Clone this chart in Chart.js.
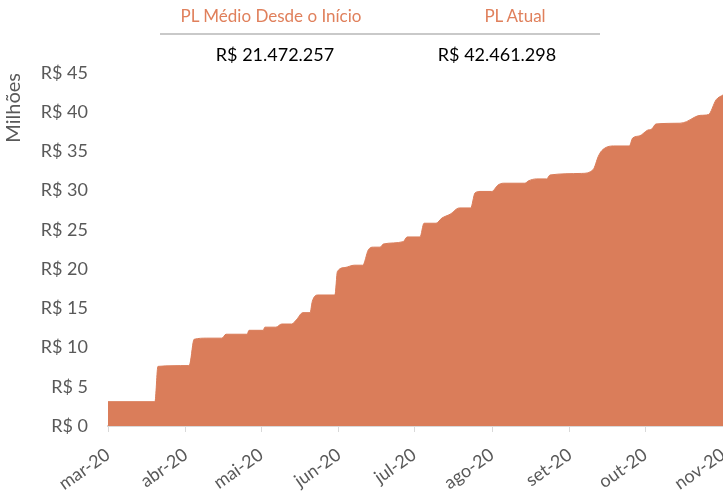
<!DOCTYPE html>
<html>
<head>
<meta charset="utf-8">
<script src="https://cdn.jsdelivr.net/npm/chart.js@4"></script>
<style>
  body { margin: 0; background: #fff; }
  #wrap { position: relative; width: 723px; height: 491px; overflow: hidden; font-family: Lato, sans-serif; }
  #plChart { position: absolute; left: 0; top: 0; }
  .head { position: absolute; top: 5px; color: #E0805C; font-size: 17px; transform: translateX(-50%); white-space: nowrap; }
  .val { position: absolute; top: 43px; color: #000; font-size: 18px; transform: translateX(-50%); white-space: nowrap; }
  #rule { position: absolute; left: 160px; top: 33px; width: 440px; height: 0; border-top: 2px solid #C9C9C9; }
</style>
</head>
<body>
<div id="wrap">
  <canvas id="plChart" width="723" height="491"></canvas>
  <div class="head" style="left:271px">PL Médio Desde o Início</div>
  <div class="head" style="left:515px">PL Atual</div>
  <div id="rule"></div>
  <div class="val" style="left:275px">R$ 21.472.257</div>
  <div class="val" style="left:497px">R$ 42.461.298</div>
</div>
<script>
// days counted from 1 mar 2020
const dayOffsets = [0, 18.7, 19.9, 31.9, 32.7, 34.3, 39.4, 45.4, 47.0, 55.4, 56.2, 61.8, 62.5, 66.9, 69.2, 73.2,
  75.2, 77.6, 80.5, 81.4, 83.5, 90.4, 91.4, 94.4, 98.1, 101.5, 103.7, 105.7, 108.4, 109.7, 117.6, 119.2,
  124.3, 125.9, 130.7, 133.0, 136.3, 140.0, 144.5, 146.2, 148.2, 152.9, 155.3, 157.5, 166.1, 167.5,
  170.8, 174.8, 176.1, 188.7, 193.3, 195.3, 196.7, 201.3, 207.7, 209.0, 211.9, 214.9, 216.6, 218.3,
  227.9, 230.5, 233.9, 235.9, 239.2, 242.3, 245];
const plMilhoes = [3.1, 3.1, 7.6, 7.7, 8.0, 11.05, 11.2, 11.2, 11.7, 11.7, 12.2, 12.2, 12.6, 12.6, 13.0, 13.0,
  13.6, 14.45, 14.45, 15.9, 16.7, 16.7, 19.7, 20.2, 20.5, 20.5, 22.45, 22.8, 22.8, 23.2, 23.5, 24.1,
  24.1, 25.85, 25.85, 26.5, 27.0, 27.8, 27.8, 29.7, 29.9, 29.9, 30.7, 30.95, 30.95, 31.25,
  31.5, 31.5, 32.0, 32.2, 32.7, 34.35, 35.1, 35.7, 35.7, 36.7, 37.0, 37.7, 37.85, 38.5,
  38.6, 38.8, 39.4, 39.6, 39.7, 41.6, 42.2];
const monthTickDays = [0, 31, 61, 92, 122, 153, 184, 214, 245];
const monthLabels = ['mar-20', 'abr-20', 'mai-20', 'jun-20', 'jul-20', 'ago-20', 'set-20', 'out-20', 'nov-20'];
const yTicks = [0, 5, 10, 15, 20, 25, 30, 35, 40, 45];

const points = dayOffsets.map((d, i) => ({ x: d, y: plMilhoes[i] }));

const ctx = document.getElementById('plChart').getContext('2d');
new Chart(ctx, {
  type: 'line',
  data: {
    datasets: [{
      label: 'PL',
      data: points,
      fill: 'origin',
      backgroundColor: '#DA7D5A',
      borderColor: '#DA7D5A',
      borderWidth: 1,
      pointRadius: 0,
      cubicInterpolationMode: 'monotone'
    }]
  },
  options: {
    responsive: false,
    animation: false,
    layout: { padding: { top: 73, right: 0, left: 0, bottom: 0 } },
    plugins: { legend: { display: false }, tooltip: { enabled: false } },
    scales: {
      x: {
        type: 'linear',
        min: 0,
        max: 245,
        afterBuildTicks: (scale) => {
          scale.ticks = monthTickDays.map(v => ({ value: v }));
        },
        afterFit: (scale) => {
          scale.height = 65;
          scale.paddingRight = 0;
          scale.paddingLeft = 0;
        },
        grid: { drawOnChartArea: false, drawTicks: true, tickLength: 6, color: '#D9D9D9' },
        border: { color: '#D9D9D9', width: 2 },
        ticks: {
          autoSkip: false,
          minRotation: 35,
          maxRotation: 35,
          padding: 12,
          labelOffset: 0,
          color: '#595959',
          font: { family: 'Lato', size: 18 },
          callback: (value) => monthLabels[monthTickDays.indexOf(value)]
        }
      },
      y: {
        min: 0,
        max: 45,
        afterBuildTicks: (scale) => {
          scale.ticks = yTicks.map(v => ({ value: v }));
        },
        afterFit: (scale) => {
          scale.width = 108;
        },
        grid: { display: false, drawTicks: false },
        border: { display: false },
        ticks: {
          padding: 20,
          color: '#595959',
          font: { family: 'Lato', size: 18 },
          callback: (value) => 'R$ ' + value
        },
        title: {
          display: true,
          text: 'Milhões',
          align: 'end',
          color: '#595959',
          font: { family: 'Lato', size: 20 },
          padding: { top: 2, bottom: 0 }
        }
      }
    }
  }
});
</script>
</body>
</html>
